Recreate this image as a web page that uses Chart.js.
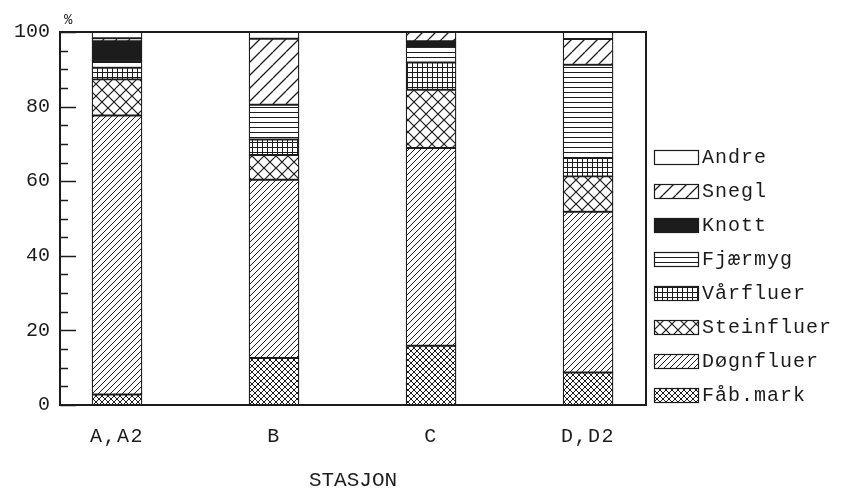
<!DOCTYPE html>
<html>
<head>
<meta charset="utf-8">
<style>
  html, body { margin: 0; padding: 0; background: #fff; }
  #wrap { width: 843px; height: 491px; }
</style>
<script src="https://cdn.jsdelivr.net/npm/chart.js@4.4.1/dist/chart.umd.min.js"></script>
</head>
<body>
<div id="wrap"><canvas id="c" width="843" height="491"></canvas></div>
<script>
// Stations along the x axis
const stations = ['A,A2', 'B', 'C', 'D,D2'];

// Share (%) of each animal group per station, stack order bottom to top
const fabMark    = [2.8, 12.6, 15.9, 8.7];
const dognfluer  = [74.8, 47.8, 53.0, 43.1];
const steinfluer = [9.7, 6.6, 15.6, 9.5];
const varfluer   = [3.1, 4.2, 7.3, 4.9];
const fjaermyg   = [1.6, 9.3, 4.4, 25.0];
const knott      = [5.5, 0, 1.3, 0];
const snegl      = [0.8, 17.7, 2.5, 6.9];
const andre      = [1.7, 1.8, 0, 1.9];

const yTicks = [0, 20, 40, 60, 80, 100];

const INK = '#1c1c1c';
const FONT = "'Liberation Mono', 'DejaVu Sans Mono', monospace";
const canvas = document.getElementById('c');
const ctx = canvas.getContext('2d');

// ---- fill patterns -------------------------------------------------------
function tile(size, draw) {
  const t = document.createElement('canvas');
  t.width = size; t.height = size;
  const g = t.getContext('2d');
  g.fillStyle = '#fff';
  g.fillRect(0, 0, size, size);
  g.strokeStyle = INK;
  g.fillStyle = INK;
  draw(g, size);
  return ctx.createPattern(t, 'repeat');
}
function slash(g, s, lw) {          // "/" lines
  g.lineWidth = lw;
  g.beginPath();
  for (let k = -1; k <= 1; k++) { g.moveTo(k * s, s); g.lineTo(k * s + s, 0); }
  g.stroke();
}
function backslash(g, s, lw) {      // "\" lines
  g.lineWidth = lw;
  g.beginPath();
  for (let k = -1; k <= 1; k++) { g.moveTo(k * s, 0); g.lineTo(k * s + s, s); }
  g.stroke();
}

const pAndre  = '#ffffff';
const pSnegl  = tile(13, (g, s) => slash(g, s, 1.3));
const pKnott  = INK;
const pFjaer  = tile(5, (g, s) => { g.fillRect(0, 2, s, 1); });
const pVar    = tile(5, (g, s) => { g.fillRect(0, 2, s, 1); g.fillRect(2, 0, 1, s); });
const pStein  = tile(12, (g, s) => { slash(g, s, 1.2); backslash(g, s, 1.2); });
const pDogn   = tile(6, (g, s) => slash(g, s, 1));
const pFab    = tile(6, (g, s) => { slash(g, s, 1); backslash(g, s, 1); });

const series = [
  ['Fåb.mark',   fabMark,    pFab],
  ['Døgnfluer',  dognfluer,  pDogn],
  ['Steinfluer', steinfluer, pStein],
  ['Vårfluer',   varfluer,   pVar],
  ['Fjærmyg',    fjaermyg,   pFjaer],
  ['Knott',      knott,      pKnott],
  ['Snegl',      snegl,      pSnegl],
  ['Andre',      andre,      pAndre]
];

// ---- letter spacing for the x labels, which are drawn after the bars ------
const spacing = {
  id: 'spacing',
  afterDatasetsDraw(chart) { chart.ctx.letterSpacing = '1.5px'; },
  afterDraw(chart) { chart.ctx.letterSpacing = '0px'; }
};

// ---- frame, inward y ticks, % sign and legend ------------------------------
const decorations = {
  id: 'decorations',
  afterDraw(chart) {
    const c = chart.ctx;
    const a = chart.chartArea;
    const y = chart.scales.y;
    c.save();
    c.letterSpacing = '0px';
    c.strokeStyle = INK;
    c.lineWidth = 2;
    c.strokeRect(a.left, a.top, a.right - a.left, a.bottom - a.top);

    c.lineWidth = 1.5;
    c.beginPath();
    for (let v = 0; v <= 100; v += 5) {
      const py = Math.round(y.getPixelForValue(v)) + 0.5;
      const len = v % 20 === 0 ? 16 : 8;
      c.moveTo(a.left, py);
      c.lineTo(a.left + len, py);
    }
    c.stroke();

    c.fillStyle = INK;
    c.font = '14px ' + FONT;
    c.textAlign = 'left';
    c.textBaseline = 'middle';
    c.fillText('%', a.left + 4, 20);

    // legend, top entry is the top of the stack
    c.font = '20px ' + FONT;
    c.letterSpacing = '1px';
    const items = chart.data.datasets.slice().reverse();
    items.forEach((ds, i) => {
      const cy = 157 + i * 34;
      const x0 = 654, w = 44, h = 14;
      c.fillStyle = ds.backgroundColor;
      c.fillRect(x0, cy - h / 2, w, h);
      c.lineWidth = 1.2;
      c.strokeStyle = INK;
      c.strokeRect(x0 + 0.5, cy - h / 2 + 0.5, w, h);
      c.fillStyle = INK;
      c.fillText(ds.label, 702, cy + 1);
    });
    c.restore();
  }
};

new Chart(canvas, {
  type: 'bar',
  data: {
    datasets: series.map(([label, vals, bg]) => ({
      label,
      data: vals.map((v, i) => ({ x: i, y: v })),
      backgroundColor: bg,
      borderColor: INK,
      borderWidth: 1.3,
      borderSkipped: false,
      barThickness: 50
    }))
  },
  options: {
    responsive: false,
    animation: false,
    devicePixelRatio: 1,
    layout: { padding: { top: 32, right: 197, left: 0, bottom: 0 } },
    plugins: { legend: { display: false }, tooltip: { enabled: false } },
    scales: {
      x: {
        type: 'linear',
        stacked: true,
        offset: false,
        min: -0.363,
        max: 3.369,
        afterBuildTicks: s => { s.ticks = stations.map((_, i) => ({ value: i })); },
        afterFit: s => { s.height = 86; },
        ticks: {
          callback: v => stations[v] ?? '',
          font: { family: FONT, size: 20 },
          color: INK,
          padding: 20,
          autoSkip: false,
          maxRotation: 0,
          z: 1
        },
        grid: { display: false, drawTicks: false, offset: false },
        border: { display: false },
        title: {
          display: true,
          text: 'STASJON',
          font: { family: FONT, size: 21, lineHeight: 1 },
          color: INK,
          padding: { top: 0, bottom: 0 }
        }
      },
      y: {
        stacked: true,
        min: 0,
        max: 100,
        afterBuildTicks: s => { s.ticks = yTicks.map(v => ({ value: v })); },
        afterFit: s => { s.width = 60; },
        ticks: { font: { family: FONT, size: 20 }, color: INK, padding: 10 },
        grid: { display: false, drawTicks: false },
        border: { display: false }
      }
    }
  },
  plugins: [spacing, decorations]
});
</script>
</body>
</html>
